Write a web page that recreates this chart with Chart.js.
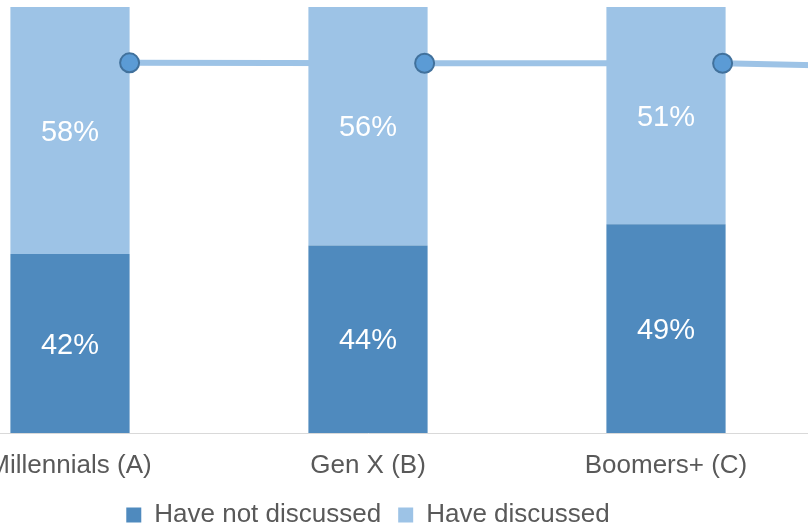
<!DOCTYPE html>
<html>
<head>
    <title>Discussed by generation</title>
    <script src="https://cdn.jsdelivr.net/npm/chart.js"></script>
    <style>
        html, body {
            margin: 0;
            padding: 0;
            background: #fff;
            overflow: hidden;
        }

        body {
            width: 808px;
            height: 528px;
            position: relative;
        }

        /* the chart is wider than the window, like the cropped original */
        .chart-container {
            position: absolute;
            left: -89px;
            top: 0;
            width: 914px;
            height: 538px;
        }
    </style>
</head>
<body>
    <div class="chart-container">
        <canvas id="gen-chart"></canvas>
    </div>

    <script>
        const categories = ['Millennials (A)', 'Gen X (B)', 'Boomers+ (C)'];
        const notDiscussed = [42, 44, 49];
        const discussed = [58, 56, 51];

        // connector line: position along the category axis (0..3) and value
        const linePos = [0.70, 1.69, 2.69, 3.0];
        const lineValues = [86.9, 86.8, 86.8, 86.3];

        const fontFamily = '"Liberation Sans", Arial, sans-serif';

        // white percent labels in the middle of each bar segment
        const barLabels = {
            id: 'barLabels',
            afterDatasetsDraw(chart) {
                const ctx = chart.ctx;
                ctx.save();
                ctx.font = '29px ' + fontFamily;
                ctx.fillStyle = '#ffffff';
                ctx.textAlign = 'center';
                ctx.textBaseline = 'middle';
                chart.data.datasets.forEach((ds, i) => {
                    if (ds.type !== 'bar') return;
                    chart.getDatasetMeta(i).data.forEach((bar, j) => {
                        ctx.fillText(ds.data[j] + '%', bar.x, (bar.y + bar.base) / 2 + 2);
                    });
                });
                ctx.restore();
            }
        };

        const linePoints = linePos.map((x, i) => ({ x: x, y: lineValues[i] }));

        const ctx = document.getElementById('gen-chart').getContext('2d');
        new Chart(ctx, {
            data: {
                labels: categories,
                datasets: [
                    {
                        type: 'bar',
                        label: 'Have not discussed',
                        data: notDiscussed,
                        backgroundColor: '#4F8ABE',
                        borderWidth: 0,
                        grouped: false,
                        categoryPercentage: 0.4,
                        barPercentage: 1,
                        order: 1
                    },
                    {
                        type: 'bar',
                        label: 'Have discussed',
                        data: discussed,
                        backgroundColor: '#9DC3E6',
                        borderWidth: 0,
                        grouped: false,
                        categoryPercentage: 0.4,
                        barPercentage: 1,
                        order: 1
                    },
                    {
                        // line runs behind the bars
                        type: 'line',
                        label: 'line',
                        data: linePoints,
                        xAxisID: 'x2',
                        stack: 'line',
                        borderColor: '#9DC3E6',
                        borderWidth: 6,
                        pointRadius: 0,
                        fill: false,
                        tension: 0,
                        order: 2
                    },
                    {
                        // markers sit on top of the bars
                        type: 'line',
                        label: 'markers',
                        data: linePoints.slice(0, 3),
                        xAxisID: 'x2',
                        stack: 'markers',
                        showLine: false,
                        pointRadius: 9.5,
                        pointBackgroundColor: '#5B9BD5',
                        pointBorderColor: '#41719C',
                        pointBorderWidth: 2,
                        order: 0
                    }
                ]
            },
            options: {
                responsive: true,
                maintainAspectRatio: false,
                animation: false,
                layout: {
                    autoPadding: false,
                    padding: { left: 10, right: 10, top: 7, bottom: 0 }
                },
                plugins: {
                    tooltip: { enabled: false },
                    legend: {
                        display: true,
                        position: 'bottom',
                        labels: {
                            filter: item => item.datasetIndex < 2,
                            boxWidth: 15,
                            boxHeight: 15,
                            padding: 17,
                            color: '#595959',
                            font: { family: fontFamily, size: 26 }
                        }
                    }
                },
                scales: {
                    x: {
                        stacked: true,
                        grid: { display: false, drawTicks: false },
                        border: { display: true, color: '#D9D9D9', width: 1 },
                        ticks: {
                            color: '#595959',
                            padding: 20,
                            maxRotation: 0,
                            autoSkip: false,
                            font: { family: fontFamily, size: 26, lineHeight: 1 }
                        },
                        afterFit: scale => { scale.height = 52; }
                    },
                    x2: {
                        type: 'linear',
                        min: 0,
                        max: 3,
                        display: false
                    },
                    y: {
                        stacked: true,
                        min: 0,
                        max: 100,
                        display: false
                    }
                }
            },
            plugins: [barLabels]
        });
    </script>
</body>
</html>
